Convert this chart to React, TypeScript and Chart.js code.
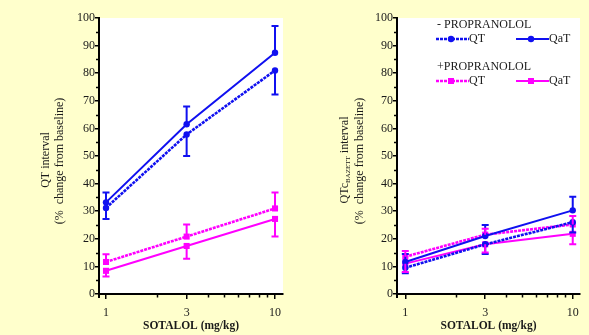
import { useEffect, useRef } from 'react';
import { Chart, registerables } from 'chart.js';

Chart.register(...registerables);

// ---------- data ----------
const doses = [1, 3, 10];
const xMajorTicks = [1, 3, 10];
const xMinorTicks = [2, 4, 5, 6, 7, 8, 9];
const yMajorStep = 10;

// Left panel: QT interval (% change from baseline)
const leftNoPropQT = [31.2, 57.8, 81.0];
const leftNoPropQTErr = [27.2, 50.0, 72.3];
const leftNoPropQaT = [33.2, 61.5, 87.4];
const leftNoPropQaTErr = [36.8, 67.9, 97.1];
const leftPropQT = [11.6, 20.8, 31.0];
const leftPropQTErr = [14.4, 25.2, 36.8];
const leftPropQaT = [8.4, 17.4, 27.2];
const leftPropQaTErr = [6.3, 12.8, 20.8];

// Right panel: QTc BAZETT interval (% change from baseline)
const rightNoPropQT = [9.5, 18.0, 26.0];
const rightNoPropQTErr = [7.5, 14.5, 22.3];
const rightNoPropQaT = [11.6, 21.0, 30.3];
const rightNoPropQaTErr = [14.5, 25.0, 35.2];
const rightPropQT = [13.5, 21.5, 25.2];
const rightPropQTErr = [15.6, 23.6, 28.3];
const rightPropQaT = [11.0, 18.0, 21.8];
const rightPropQaTErr = [8.0, 15.0, 18.0];

const BLUE = '#1010F0';
const MAGENTA = '#FF00FF';
const TEXT = '#1a1a1a';
const FONT = '"Liberation Serif", "Times New Roman", serif';
const TEXTURE_DASH = [3, 1];

type Series = { values: number[]; err: number[]; color: string; textured: boolean; square: boolean };

function makeDataset(s: Series) {
  return {
    data: doses.map((d, i) => ({ x: d, y: s.values[i] })),
    errEnd: s.err,
    borderColor: s.color,
    backgroundColor: s.color,
    borderWidth: s.textured ? 2.6 : 2,
    borderDash: s.textured ? TEXTURE_DASH : [],
    pointStyle: s.square ? 'rect' : 'circle',
    pointRadius: s.square ? 4.3 : 3.2,
    pointBorderWidth: 0,
    pointBackgroundColor: s.color,
    tension: 0,
    fill: false,
  };
}

type PanelCfg = {
  width: number;
  yAxisWidth: number;
  rightPad: number;
  xMin: number;
  xMax: number;
  titleX1: number;
  titleX2: number;
  subscript: boolean;
  legend: boolean;
  series: Series[];
};

const panelPlugin = (cfg: PanelCfg) => ({
  id: 'panelDeco',
  beforeDraw(chart: any) {
    const { ctx, chartArea: a } = chart;
    ctx.save();
    ctx.fillStyle = '#FFFFFF';
    ctx.fillRect(a.left, a.top, a.right - a.left, a.bottom - a.top);
    ctx.restore();
  },
  afterDatasetsDraw(chart: any) {
    const { ctx } = chart;
    const ys = chart.scales.y;
    ctx.save();
    chart.data.datasets.forEach((ds: any, di: number) => {
      const meta = chart.getDatasetMeta(di);
      ctx.strokeStyle = ds.borderColor;
      ctx.lineWidth = 2;
      meta.data.forEach((pt: any, i: number) => {
        const yEnd = ys.getPixelForValue(ds.errEnd[i]);
        ctx.beginPath();
        ctx.moveTo(pt.x, pt.y);
        ctx.lineTo(pt.x, yEnd);
        ctx.moveTo(pt.x - 3.5, yEnd);
        ctx.lineTo(pt.x + 3.5, yEnd);
        ctx.stroke();
      });
    });
    ctx.restore();
  },
  afterDraw(chart: any) {
    const { ctx, chartArea: a } = chart;
    const xs = chart.scales.x;
    const ys = chart.scales.y;
    ctx.save();
    ctx.strokeStyle = '#000';
    ctx.lineWidth = 1.5;
    // minor y ticks
    for (let v = 5; v < 100; v += 10) {
      const y = Math.round(ys.getPixelForValue(v)) + 0.5;
      ctx.beginPath();
      ctx.moveTo(a.left - 3, y);
      ctx.lineTo(a.left, y);
      ctx.stroke();
    }
    // minor x ticks
    xMinorTicks.forEach((v) => {
      const x = Math.round(xs.getPixelForValue(v)) + 0.5;
      ctx.beginPath();
      ctx.moveTo(x, a.bottom);
      ctx.lineTo(x, a.bottom + 3.5);
      ctx.stroke();
    });
    // y axis extension below x axis
    ctx.lineWidth = 2;
    ctx.beginPath();
    ctx.moveTo(a.left, a.bottom);
    ctx.lineTo(a.left, a.bottom + 4);
    ctx.stroke();

    ctx.fillStyle = TEXT;
    // x title
    ctx.font = `bold 11.5px ${FONT}`;
    ctx.textAlign = 'center';
    ctx.textBaseline = 'middle';
    ctx.fillText('SOTALOL (mg/kg)', (a.left + a.right) / 2, 326.5);

    // y title (rotated)
    const cy = 160;
    ctx.save();
    ctx.translate(cfg.titleX1, cy);
    ctx.rotate(-Math.PI / 2);
    ctx.font = `12px ${FONT}`;
    ctx.textBaseline = 'middle';
    if (cfg.subscript) {
      const p1 = 'QTc';
      const p2 = 'BAZETT';
      const p3 = ' interval';
      ctx.font = `12px ${FONT}`;
      const w1 = ctx.measureText(p1).width;
      const w3 = ctx.measureText(p3).width;
      ctx.font = `7px ${FONT}`;
      const w2 = ctx.measureText(p2).width;
      let x0 = -(w1 + w2 + w3) / 2;
      ctx.textAlign = 'left';
      ctx.font = `12px ${FONT}`;
      ctx.fillText(p1, x0, 0);
      x0 += w1;
      ctx.font = `7px ${FONT}`;
      ctx.fillText(p2, x0, 3.5);
      x0 += w2;
      ctx.font = `12px ${FONT}`;
      ctx.fillText(p3, x0, 0);
    } else {
      ctx.textAlign = 'center';
      ctx.fillText('QT interval', 0, 0);
    }
    ctx.restore();
    ctx.save();
    ctx.translate(cfg.titleX2, cy + 1);
    ctx.rotate(-Math.PI / 2);
    ctx.font = `12px ${FONT}`;
    ctx.textAlign = 'center';
    ctx.textBaseline = 'middle';
    ctx.fillText('(%  change from baseline)', 0, 0);
    ctx.restore();

    // legend
    if (cfg.legend) {
      const groups = [
        { label: '- PROPRANOLOL', ty: 25, ly: 39, items: [cfg.series[0], cfg.series[1]] },
        { label: '+PROPRANOLOL', ty: 67, ly: 81, items: [cfg.series[2], cfg.series[3]] },
      ];
      const names = ['QT', 'QaT'];
      const sx = [142, 222];
      groups.forEach((g) => {
        ctx.font = `12px ${FONT}`;
        ctx.fillStyle = TEXT;
        ctx.textAlign = 'left';
        ctx.textBaseline = 'middle';
        ctx.fillText(g.label, 143, g.ty);
        g.items.forEach((s, k) => {
          const x0 = sx[k];
          ctx.strokeStyle = s.color;
          ctx.lineWidth = s.textured ? 2.6 : 2;
          ctx.setLineDash(s.textured ? TEXTURE_DASH : []);
          ctx.beginPath();
          ctx.moveTo(x0, g.ly);
          ctx.lineTo(x0 + 33, g.ly);
          ctx.stroke();
          ctx.setLineDash([]);
          ctx.fillStyle = s.color;
          const mx = x0 + 15;
          if (s.square) {
            ctx.fillRect(mx - 3, g.ly - 3, 6, 6);
          } else {
            ctx.beginPath();
            ctx.arc(mx, g.ly, 3.2, 0, Math.PI * 2);
            ctx.fill();
          }
          ctx.fillStyle = TEXT;
          ctx.fillText(names[k], x0 + 33, g.ly);
        });
      });
    }
    ctx.restore();
  },
});

function Panel({ cfg, left }: { cfg: PanelCfg; left: number }) {
  const ref = useRef<HTMLCanvasElement | null>(null);
  useEffect(() => {
    if (!ref.current) return;
    const chart = new Chart(ref.current, {
      type: 'line',
      data: { datasets: cfg.series.map(makeDataset) as any },
      options: {
        animation: false,
        responsive: false,
        devicePixelRatio: 1,
        layout: { padding: { top: 18, right: cfg.rightPad, left: 0, bottom: 0 } },
        plugins: { legend: { display: false }, tooltip: { enabled: false }, title: { display: false } },
        scales: {
          x: {
            type: 'logarithmic',
            bounds: 'data',
            min: cfg.xMin,
            max: cfg.xMax,
            afterBuildTicks: (scale: any) => {
              scale.ticks = xMajorTicks.map((v) => ({ value: v, major: false }));
            },
            afterFit: (scale: any) => {
              scale.height = 41;
            },
            ticks: {
              autoSkip: false,
              maxRotation: 0,
              padding: 7,
              color: TEXT,
              font: { family: FONT, size: 12 },
              callback: (v: any) => String(v),
            },
            grid: { display: true, drawOnChartArea: false, drawTicks: true, tickLength: 5, color: '#000', lineWidth: 1.5 },
            border: { display: true, color: '#000', width: 2 },
          },
          y: {
            type: 'linear',
            min: 0,
            max: 100,
            afterFit: (scale: any) => {
              scale.width = cfg.yAxisWidth;
            },
            ticks: {
              stepSize: yMajorStep,
              padding: 0,
              color: TEXT,
              font: { family: FONT, size: 12 },
            },
            grid: { display: true, drawOnChartArea: false, drawTicks: true, tickLength: 4, color: '#000', lineWidth: 1.5 },
            border: { display: true, color: '#000', width: 2 },
          },
        },
      },
      plugins: [panelPlugin(cfg)],
    } as any);
    return () => chart.destroy();
  }, [cfg]);
  return (
    <canvas
      ref={ref}
      width={cfg.width}
      height={335}
      style={{ position: 'absolute', left, top: 0, width: cfg.width, height: 335, display: 'block' }}
    />
  );
}

const leftCfg: PanelCfg = {
  width: 294,
  yAxisWidth: 99,
  rightPad: 11,
  xMin: 0.909,
  xMax: 11.15,
  titleX1: 46,
  titleX2: 60,
  subscript: false,
  legend: false,
  series: [
    { values: leftNoPropQT, err: leftNoPropQTErr, color: BLUE, textured: true, square: false },
    { values: leftNoPropQaT, err: leftNoPropQaTErr, color: BLUE, textured: false, square: false },
    { values: leftPropQT, err: leftPropQTErr, color: MAGENTA, textured: true, square: true },
    { values: leftPropQaT, err: leftPropQaTErr, color: MAGENTA, textured: false, square: true },
  ],
};

const rightCfg: PanelCfg = {
  width: 295,
  yAxisWidth: 103,
  rightPad: 9,
  xMin: 0.892,
  xMax: 11.05,
  titleX1: 51,
  titleX2: 66,
  subscript: true,
  legend: true,
  series: [
    { values: rightNoPropQT, err: rightNoPropQTErr, color: BLUE, textured: true, square: false },
    { values: rightNoPropQaT, err: rightNoPropQaTErr, color: BLUE, textured: false, square: false },
    { values: rightPropQT, err: rightPropQTErr, color: MAGENTA, textured: true, square: true },
    { values: rightPropQaT, err: rightPropQaTErr, color: MAGENTA, textured: false, square: true },
  ],
};

export default function App() {
  useEffect(() => {
    document.body.style.margin = '0';
    document.body.style.background = '#FFFFCC';
  }, []);
  return (
    <div style={{ position: 'relative', width: 589, height: 335, background: '#FFFFCC', overflow: 'hidden' }}>
      <Panel cfg={leftCfg} left={0} />
      <Panel cfg={rightCfg} left={294} />
    </div>
  );
}
